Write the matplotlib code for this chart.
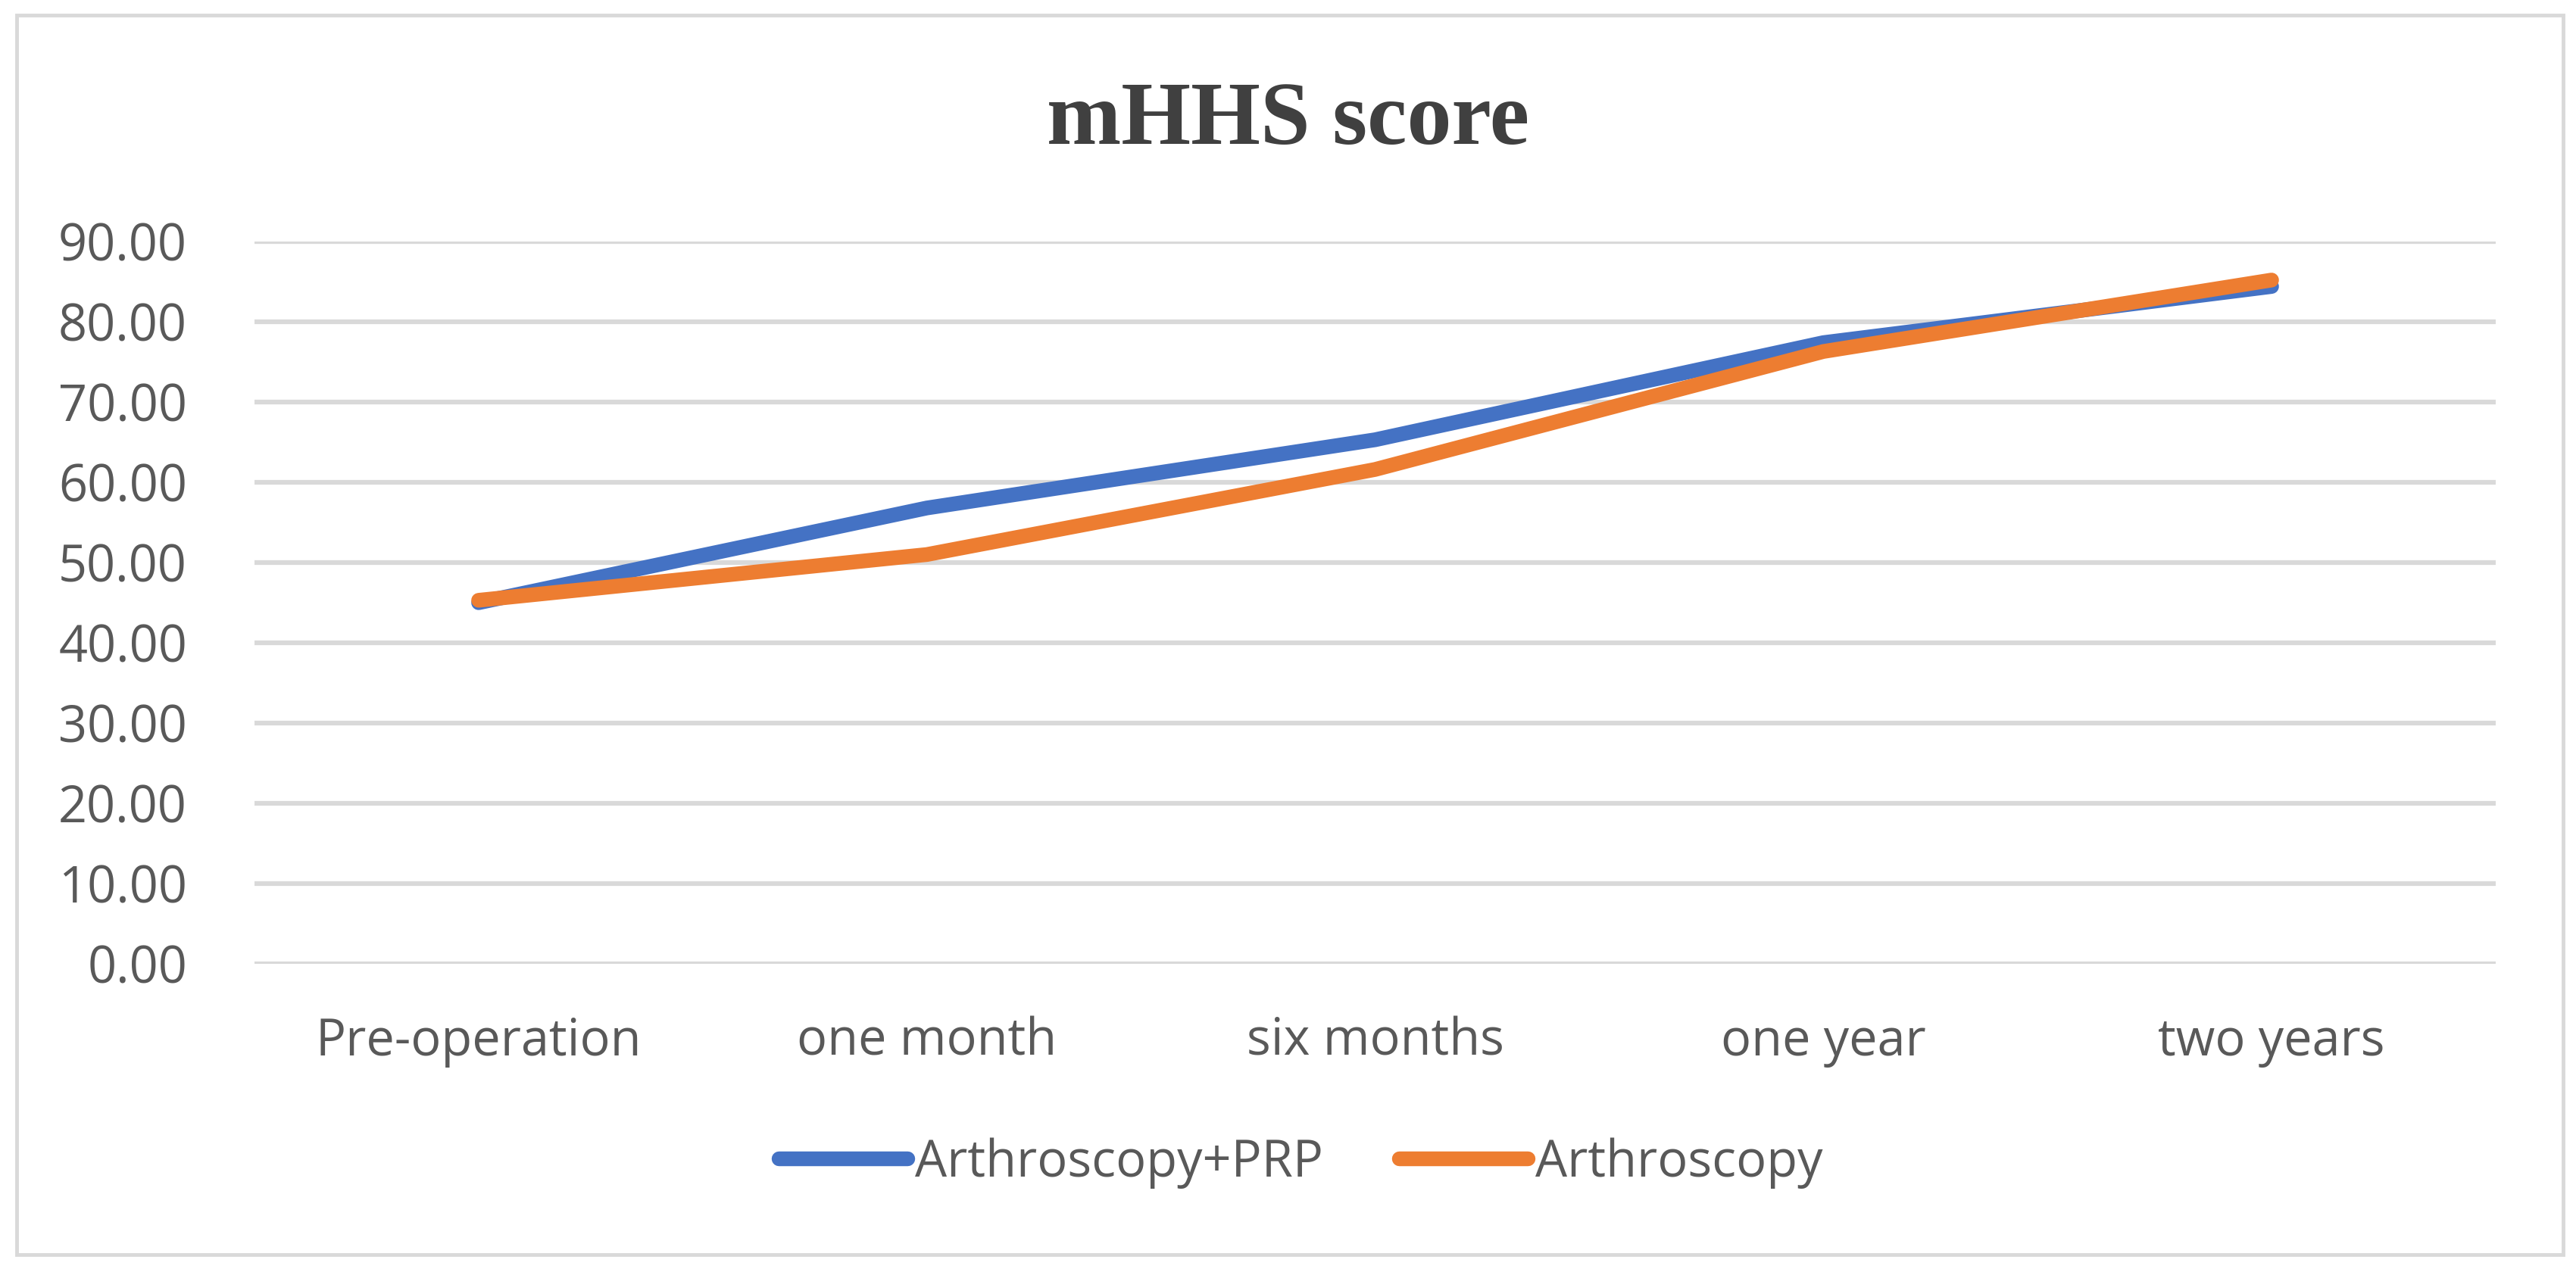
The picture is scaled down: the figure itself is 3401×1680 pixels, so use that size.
import matplotlib.pyplot as plt
from matplotlib.patches import Rectangle

# values
categories = ['Pre-operation', 'one month', 'six months', 'one year', 'two years']
prp_scores = [45.0, 56.8, 65.3, 77.4, 84.4]
arth_scores = [45.3, 51.0, 61.6, 76.3, 85.2]
yticks = [0, 10, 20, 30, 40, 50, 60, 70, 80, 90]

BLUE = '#4472C4'
ORANGE = '#ED7D31'
GRID = '#D9D9D9'
TEXT = '#595959'

plt.rcParams['font.family'] = ['Open Sans', 'DejaVu Sans']

fig = plt.figure(figsize=(34.01, 16.80), dpi=100)
fig.patch.set_facecolor('white')

# chart-area border
fig.patches.append(Rectangle((22 / 3401, 1 - 1657 / 1680), (3384 - 22) / 3401, (1657 - 20) / 1680,
                             transform=fig.transFigure, fill=False, edgecolor=GRID, lw=3.5))

ax = fig.add_axes([336 / 3401, 1 - 1273 / 1680, (3295 - 336) / 3401, (1273 - 319) / 1680])

x = range(len(categories))
ax.plot(x, prp_scores, color=BLUE, lw=14, solid_capstyle='round', solid_joinstyle='round',
        label='Arthroscopy+PRP', zorder=3)
ax.plot(x, arth_scores, color=ORANGE, lw=14, solid_capstyle='round', solid_joinstyle='round',
        label='Arthroscopy', zorder=4)

ax.set_xlim(-0.5, len(categories) - 0.5)
ax.set_ylim(0, 90)
ax.set_yticks(yticks)
ax.set_yticklabels([f'{v:.2f}' for v in yticks])
ax.set_xticks(list(x))
ax.set_xticklabels(categories)

ax.tick_params(axis='both', length=0, labelsize=48, labelcolor=TEXT)
ax.tick_params(axis='y', pad=64)
ax.tick_params(axis='x', pad=50)

ax.yaxis.grid(True, color=GRID, lw=4.5, zorder=0)
ax.set_axisbelow(True)
for side in ['top', 'right', 'left', 'bottom']:
    ax.spines[side].set_visible(False)

fig.text(0.5, 1 - 190 / 1680, 'mHHS score', ha='center', va='baseline',
         family='Liberation Serif', fontweight='bold', fontsize=85, color='#404040')

fig.legend(loc='center', bbox_to_anchor=(0.505, 1 - 1536 / 1680), ncol=2, frameon=False,
           fontsize=48, labelcolor=TEXT, handlelength=2.55, handletextpad=0.15,
           columnspacing=1.5)

fig.savefig('out.png', dpi=100, facecolor='white')
